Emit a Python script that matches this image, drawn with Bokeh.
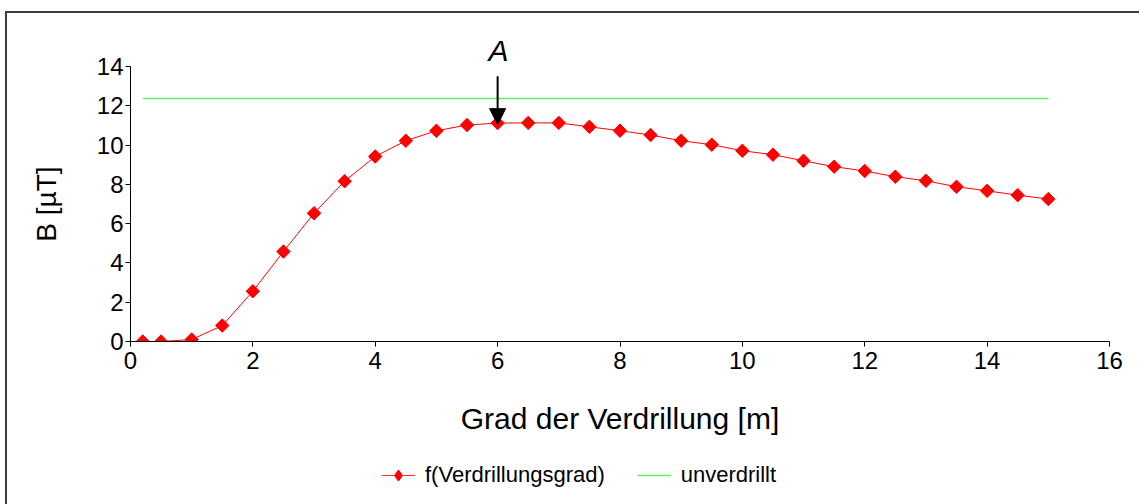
from math import pi

from bokeh.plotting import figure
from bokeh.layouts import column
from bokeh.models import (Range1d, Legend, LegendItem, Arrow, NormalHead,
                          FixedTicker, InlineStyleSheet)
from bokeh.embed import file_html
from bokeh.resources import INLINE

FONT = "Liberation Sans"

# Magnetic flux density as a function of the twist length
twist_m = [0.2, 0.5, 1, 1.5, 2, 2.5, 3, 3.5, 4, 4.5, 5, 5.5, 6, 6.5, 7, 7.5,
           8, 8.5, 9, 9.5, 10, 10.5, 11, 11.5, 12, 12.5, 13, 13.5, 14, 14.5, 15]
field_uT = [0.0, 0.0, 0.1, 0.81, 2.56, 4.58, 6.53, 8.16, 9.42, 10.22, 10.73,
            11.02, 11.12, 11.13, 11.13, 10.93, 10.73, 10.51, 10.22, 10.02, 9.71,
            9.51, 9.2, 8.9, 8.68, 8.39, 8.18, 7.88, 7.67, 7.45, 7.25]

# Reference level for the untwisted cable
untwisted_x = [0.2, 15]
untwisted_uT = [12.37, 12.37]

# Marked maximum
peak_label = "A"
peak_x = 6
peak_y = 11.12

x_ticks = [0, 2, 4, 6, 8, 10, 12, 14, 16]
y_ticks = [0, 2, 4, 6, 8, 10, 12, 14]

series_names = ["f(Verdrillungsgrad)", "unverdrillt"]

RED = "#ff0000"
GREEN = "#5ef05e"

p = figure(width=1139, height=450, x_range=Range1d(0, 16), y_range=Range1d(0, 14),
           output_backend="svg", toolbar_location=None,
           min_border_left=130, min_border_right=30,
           min_border_top=66, min_border_bottom=109)

p.outline_line_color = None
p.grid.visible = False
p.background_fill_color = "white"
p.border_fill_color = "white"

for ax, ticks in ((p.xaxis[0], x_ticks), (p.yaxis[0], y_ticks)):
    ax.ticker = FixedTicker(ticks=ticks)
    ax.minor_tick_line_color = None
    ax.major_tick_in = 0
    ax.major_tick_out = 5
    ax.major_label_standoff = 2
    ax.axis_line_color = "black"
    ax.major_tick_line_color = "black"
    ax.major_label_text_font = FONT
    ax.major_label_text_font_size = "24px"
    ax.major_label_text_color = "black"
    ax.axis_label_text_font = FONT
    ax.axis_label_text_font_style = "normal"
    ax.axis_label_text_color = "black"

p.xaxis.major_label_standoff = 5
p.xaxis.axis_label = "Grad der Verdrillung [m]"
p.xaxis.axis_label_text_font_size = "30px"
p.xaxis.axis_label_standoff = 30
p.yaxis.axis_label = "B [µT]"
p.yaxis.axis_label_text_font_size = "28px"
p.yaxis.axis_label_standoff = 32

p.line(untwisted_x, untwisted_uT, line_color=GREEN, line_width=1.6)
p.line(twist_m, field_uT, line_color=RED, line_width=1)
p.scatter(twist_m, field_uT, marker="square", angle=pi / 4, size=9.5,
          fill_color=RED, line_color=RED)

# Arrow pointing at the maximum, its letter set above the frame
p.add_layout(Arrow(end=NormalHead(size=16, fill_color="black", line_color="black"),
                   x_start=peak_x, y_start=13.5, x_end=peak_x, y_end=peak_y - 0.08,
                   line_color="black", line_width=2))
p.title.text = peak_label
p.title.text_font = FONT
p.title.text_font_size = "30px"
p.title.text_font_style = "italic"
p.title.text_color = "black"
p.title.align = "left"
p.title.offset = 358
p.title.standoff = 0

# Legend strip underneath the chart; its renderers sit outside the visible range
lg = figure(width=1139, height=54, x_range=Range1d(-100, -99), y_range=Range1d(-100, -99),
            output_backend="svg", toolbar_location=None,
            x_axis_location=None, y_axis_location=None, min_border=0)
lg.outline_line_color = None
lg.grid.visible = False
lg_red_line = lg.line(twist_m, field_uT, line_color="#ff3030", line_width=1.2)
lg_red_pts = lg.scatter(twist_m, field_uT, marker="diamond", size=13,
                        fill_color=RED, line_color=RED, line_width=1.5)
lg_green = lg.line(untwisted_x, untwisted_uT, line_color=GREEN, line_width=1.6)

legend = Legend(items=[LegendItem(label=series_names[0], renderers=[lg_red_line, lg_red_pts]),
                       LegendItem(label=series_names[1], renderers=[lg_green])],
                orientation="horizontal", location=(251, 16),
                glyph_width=34, glyph_height=26, label_standoff=10, spacing=32,
                padding=0, margin=0, border_line_alpha=0, background_fill_alpha=0,
                label_text_font=FONT, label_text_font_size="22px",
                label_text_color="black")
lg.add_layout(legend)

layout = column(p, lg, spacing=0)

# Thin frame around the whole chart area
layout.stylesheets = [InlineStyleSheet(css="""
:host::after {
  content: "";
  position: absolute;
  left: 5px; top: 11px; width: 1134px; height: 493px;
  box-sizing: border-box;
  border-top: 2px solid #3c3c3c;
  border-left: 2px solid #3c3c3c;
  pointer-events: none;
  z-index: 10;
}
""")]

open("out.html", "w").write(file_html(layout, INLINE))
